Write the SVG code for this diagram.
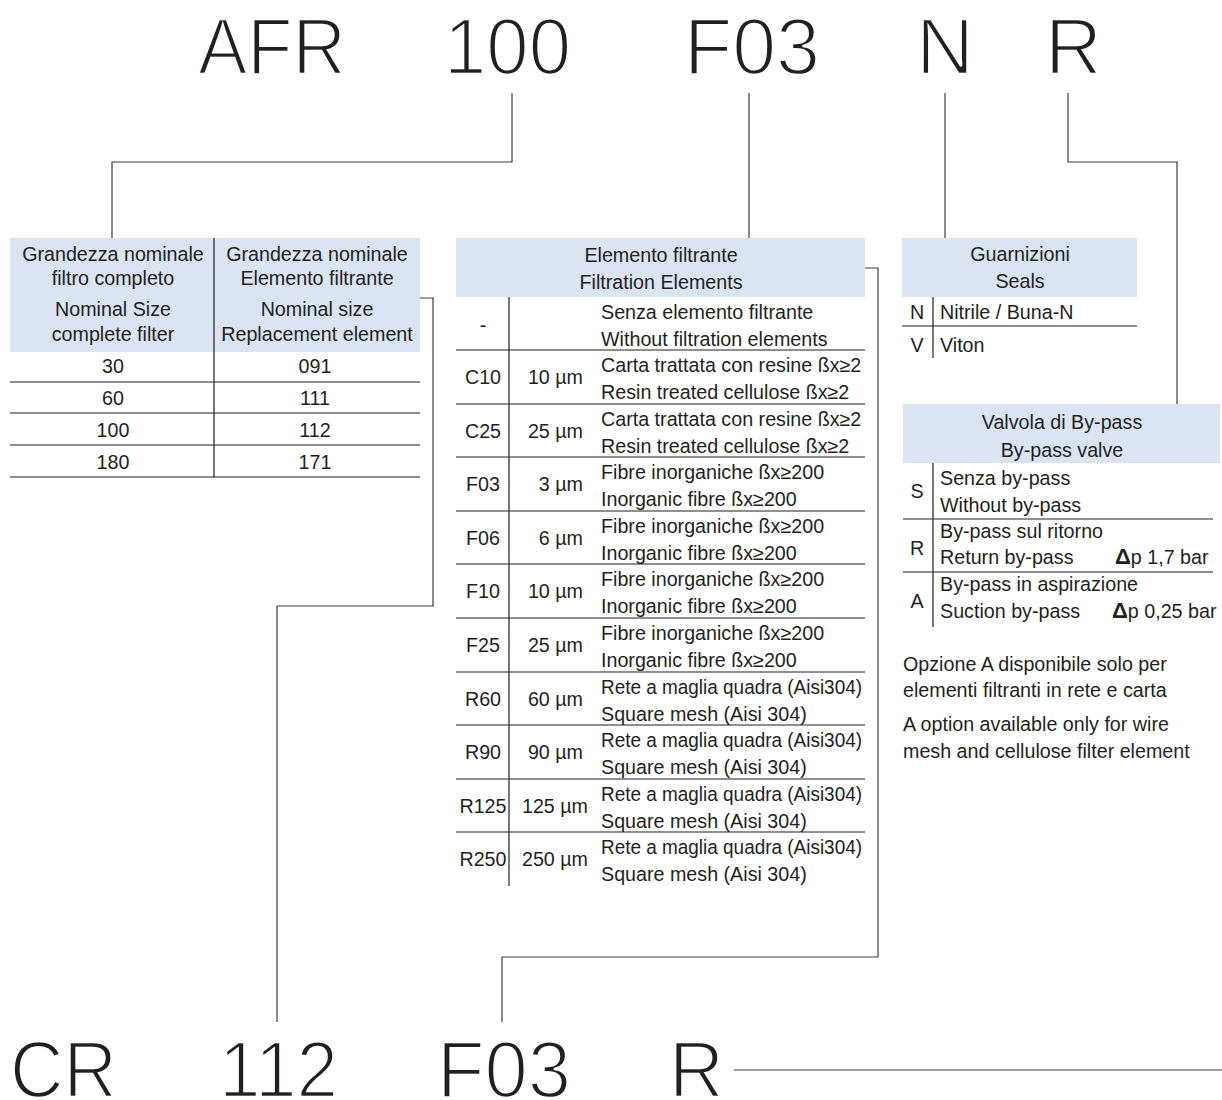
<svg xmlns="http://www.w3.org/2000/svg" width="1222" height="1100" viewBox="0 0 1222 1100">
<style>
.t{font-family:"Liberation Sans",Arial,sans-serif;font-size:19.7px;fill:#231f20}
.c{text-anchor:middle}
.e{text-anchor:end}
.big{font-family:"Liberation Sans",Arial,sans-serif;font-size:80px;fill:#231f20;stroke:#ffffff;stroke-width:2.4}
.hd{fill:#dae4f3}
.ln{stroke:#231f20;stroke-width:1.2;fill:none}
.cn{stroke:#3c3c3c;stroke-width:1.2;fill:none}
.d{font-weight:bold;font-size:22px}
</style>
<rect width="1222" height="1100" fill="#ffffff"/>

<g id="code-top">
<text class="big" x="198" y="74" textLength="148" lengthAdjust="spacingAndGlyphs">AFR</text>
<text class="big" x="444" y="74" textLength="127" lengthAdjust="spacingAndGlyphs">100</text>
<text class="big" x="684" y="74" textLength="136" lengthAdjust="spacingAndGlyphs">F03</text>
<text class="big" x="916" y="74" textLength="58" lengthAdjust="spacingAndGlyphs">N</text>
<text class="big" x="1045" y="74" textLength="57" lengthAdjust="spacingAndGlyphs">R</text>
</g>

<g id="code-bottom">
<text class="big" x="10" y="1097" textLength="107" lengthAdjust="spacingAndGlyphs">CR</text>
<text class="big" x="219" y="1097" textLength="119" lengthAdjust="spacingAndGlyphs">112</text>
<text class="big" x="437" y="1097" textLength="134" lengthAdjust="spacingAndGlyphs">F03</text>
<text class="big" x="669" y="1097" textLength="55" lengthAdjust="spacingAndGlyphs">R</text>
</g>

<g id="connectors">
<path class="cn" d="M512,93 V162 H112 V238"/>
<path class="cn" d="M749,93 V238"/>
<path class="cn" d="M945,93 V238"/>
<path class="cn" d="M1068,93 V162 H1177 V404"/>
<path class="cn" d="M420,298 H433 V606 H277 V1022"/>
<path class="cn" d="M865,268 H878 V957 H502 V1022"/>
<path class="cn" d="M734,1070 H1222"/>
</g>

<g id="table-size">
<rect class="hd" x="10" y="238" width="410" height="114"/>
<path class="ln" d="M214,238 V477 M10,382 H420 M10,413 H420 M10,445 H420 M10,477 H420"/>
<text class="t c" x="113" y="261">Grandezza nominale</text>
<text class="t c" x="113" y="285">filtro completo</text>
<text class="t c" x="113" y="316">Nominal Size</text>
<text class="t c" x="113" y="341">complete filter</text>
<text class="t c" x="317" y="261">Grandezza nominale</text>
<text class="t c" x="317" y="285">Elemento filtrante</text>
<text class="t c" x="317" y="316">Nominal size</text>
<text class="t c" x="317" y="341">Replacement element</text>
<text class="t c" x="113" y="373">30</text>
<text class="t c" x="113" y="405">60</text>
<text class="t c" x="113" y="437">100</text>
<text class="t c" x="113" y="469">180</text>
<text class="t c" x="315" y="373">091</text>
<text class="t c" x="315" y="405">111</text>
<text class="t c" x="315" y="437">112</text>
<text class="t c" x="315" y="469">171</text>
</g>

<g id="table-element">
<rect class="hd" x="456" y="238" width="409" height="59"/>
<text class="t c" x="661" y="262">Elemento filtrante</text>
<text class="t c" x="661" y="289">Filtration Elements</text>
<path class="ln" d="M509,297 V886 M456,350 H865 M456,404 H865 M456,457 H865 M456,511 H865 M456,564 H865 M456,618 H865 M456,672 H865 M456,725 H865 M456,779 H865 M456,832 H865"/>
<text class="t c" x="483" y="332">-</text>
<text class="t" x="601" y="319">Senza elemento filtrante</text>
<text class="t" x="601" y="346">Without filtration elements</text>

<text class="t c" x="483" y="384">C10</text><text class="t e" x="583" y="384">10 µm</text>
<text class="t" x="601" y="372">Carta trattata con resine ßx≥2</text>
<text class="t" x="601" y="399">Resin treated cellulose ßx≥2</text>

<text class="t c" x="483" y="438">C25</text><text class="t e" x="583" y="438">25 µm</text>
<text class="t" x="601" y="426">Carta trattata con resine ßx≥2</text>
<text class="t" x="601" y="453">Resin treated cellulose ßx≥2</text>

<text class="t c" x="483" y="491">F03</text><text class="t e" x="583" y="491">3 µm</text>
<text class="t" x="601" y="479">Fibre inorganiche ßx≥200</text>
<text class="t" x="601" y="506">Inorganic fibre ßx≥200</text>

<text class="t c" x="483" y="545">F06</text><text class="t e" x="583" y="545">6 µm</text>
<text class="t" x="601" y="533">Fibre inorganiche ßx≥200</text>
<text class="t" x="601" y="560">Inorganic fibre ßx≥200</text>

<text class="t c" x="483" y="598">F10</text><text class="t e" x="583" y="598">10 µm</text>
<text class="t" x="601" y="586">Fibre inorganiche ßx≥200</text>
<text class="t" x="601" y="613">Inorganic fibre ßx≥200</text>

<text class="t c" x="483" y="652">F25</text><text class="t e" x="583" y="652">25 µm</text>
<text class="t" x="601" y="640">Fibre inorganiche ßx≥200</text>
<text class="t" x="601" y="667">Inorganic fibre ßx≥200</text>

<text class="t c" x="483" y="706">R60</text><text class="t e" x="583" y="706">60 µm</text>
<text class="t" x="601" y="694" textLength="261" lengthAdjust="spacingAndGlyphs">Rete a maglia quadra (Aisi304)</text>
<text class="t" x="601" y="721">Square mesh (Aisi 304)</text>

<text class="t c" x="483" y="759">R90</text><text class="t e" x="583" y="759">90 µm</text>
<text class="t" x="601" y="747" textLength="261" lengthAdjust="spacingAndGlyphs">Rete a maglia quadra (Aisi304)</text>
<text class="t" x="601" y="774">Square mesh (Aisi 304)</text>

<text class="t c" x="483" y="813">R125</text><text class="t e" x="588" y="813">125 µm</text>
<text class="t" x="601" y="801" textLength="261" lengthAdjust="spacingAndGlyphs">Rete a maglia quadra (Aisi304)</text>
<text class="t" x="601" y="828">Square mesh (Aisi 304)</text>

<text class="t c" x="483" y="866">R250</text><text class="t e" x="588" y="866">250 µm</text>
<text class="t" x="601" y="854" textLength="261" lengthAdjust="spacingAndGlyphs">Rete a maglia quadra (Aisi304)</text>
<text class="t" x="601" y="881">Square mesh (Aisi 304)</text>
</g>

<g id="table-seals">
<rect class="hd" x="902" y="238" width="235" height="59"/>
<text class="t c" x="1020" y="261">Guarnizioni</text>
<text class="t c" x="1020" y="288">Seals</text>
<path class="ln" d="M933,297 V358 M902,326 H1137"/>
<text class="t c" x="917" y="319">N</text>
<text class="t" x="940" y="319">Nitrile / Buna-N</text>
<text class="t c" x="917" y="352">V</text>
<text class="t" x="940" y="352">Viton</text>
</g>

<g id="table-bypass">
<rect class="hd" x="903" y="404" width="317" height="59"/>
<text class="t c" x="1062" y="429">Valvola di By-pass</text>
<text class="t c" x="1062" y="457">By-pass valve</text>
<path class="ln" d="M933,463 V627 M903,519 H1213 M903,572 H1213"/>
<text class="t c" x="917" y="498">S</text>
<text class="t" x="940" y="485">Senza by-pass</text>
<text class="t" x="940" y="512">Without by-pass</text>
<text class="t c" x="917" y="555">R</text>
<text class="t" x="940" y="538">By-pass sul ritorno</text>
<text class="t" x="940" y="564">Return by-pass</text>
<text class="t" x="1115" y="564"><tspan class="d">Δ</tspan>p 1,7 bar</text>
<text class="t c" x="917" y="608">A</text>
<text class="t" x="940" y="591">By-pass in aspirazione</text>
<text class="t" x="940" y="618">Suction by-pass</text>
<text class="t" x="1112" y="618"><tspan class="d">Δ</tspan>p 0,25 bar</text>
</g>

<g id="note">
<text class="t" x="903" y="671">Opzione A disponibile solo per</text>
<text class="t" x="903" y="697">elementi filtranti in rete e carta</text>
<text class="t" x="903" y="731">A option available only for wire</text>
<text class="t" x="903" y="758">mesh and cellulose filter element</text>
</g>
</svg>
